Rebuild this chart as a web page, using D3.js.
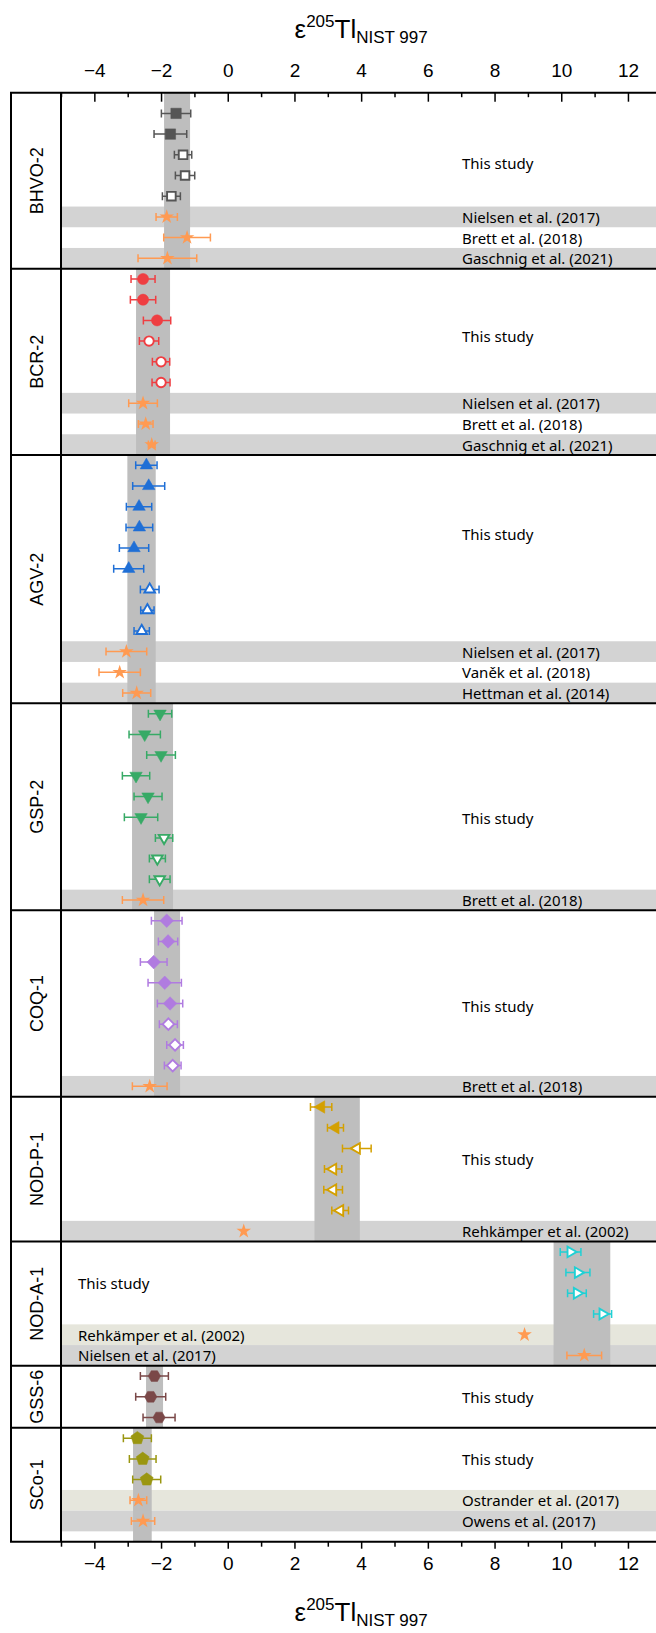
<!DOCTYPE html>
<html><head><meta charset="utf-8">
<script src="https://cdn.jsdelivr.net/npm/d3@7"></script>
<style>body{margin:0;background:#fff}</style>
</head><body><svg id="c" width="656" height="1633"></svg>
<script>
// ---------- DATA ----------
const sampleNames  = ["BHVO-2","BCR-2","AGV-2","GSP-2","COQ-1","NOD-P-1","NOD-A-1","GSS-6","SCo-1"];
const sampleColors = ["#555555","#ef3e42","#1f6fd6","#37aa66","#b07be0","#d4a000","#20d0d4","#7a4848","#9a9610"];
const sampleShapes = ["square","circle","triUp","triDown","diamond","triLeft","triRight","hexagon","pentagon"];
const refBandLo = [-1.91,-2.75,-3.01,-2.87,-2.21,2.60,9.77,-2.45,-2.84];
const refBandHi = [-1.13,-1.73,-2.16,-1.64,-1.43,3.96,11.47,-1.94,-2.28];

// This study: [value, 2SD, open(1)/filled(0)]
const bhvo2 = [[-1.55,0.44,0],[-1.72,0.49,0],[-1.34,0.26,1],[-1.28,0.29,1],[-1.69,0.27,1]];
const bcr2  = [[-2.54,0.36,0],[-2.54,0.38,0],[-2.12,0.41,0],[-2.36,0.29,1],[-2.00,0.26,1],[-2.00,0.27,1]];
const agv2  = [[-2.44,0.32,0],[-2.37,0.48,0],[-2.66,0.38,0],[-2.65,0.40,0],[-2.81,0.44,0],[-2.97,0.45,0],[-2.34,0.28,1],[-2.41,0.20,1],[-2.58,0.23,1]];
const gsp2  = [[-2.03,0.35,0],[-2.49,0.47,0],[-2.00,0.43,0],[-2.75,0.41,0],[-2.39,0.42,0],[-2.60,0.50,0],[-1.91,0.26,1],[-2.11,0.24,1],[-2.04,0.31,1]];
const coq1  = [[-1.83,0.46,0],[-1.79,0.29,0],[-2.22,0.40,0],[-1.89,0.50,0],[-1.73,0.38,0],[-1.78,0.27,1],[-1.58,0.25,1],[-1.65,0.25,1]];
const nodp1 = [[2.80,0.32,0],[3.23,0.24,0],[3.87,0.43,1],[3.16,0.26,1],[3.16,0.28,1],[3.37,0.25,1]];
const noda1 = [[10.28,0.31,1],[10.50,0.36,1],[10.47,0.28,1],[11.24,0.27,1]];
const gss6  = [[-2.20,0.42,0],[-2.31,0.45,0],[-2.06,0.48,0]];
const sco1  = [[-2.71,0.42,0],[-2.55,0.40,0],[-2.43,0.42,0]];
const thisStudy = [bhvo2,bcr2,agv2,gsp2,coq1,nodp1,noda1,gss6,sco1];

// Literature: [reference, value, 2SD (0 = none), row band]
const bhvo2Lit = [["Nielsen et al. (2017)",-1.83,0.32,"gray"],["Brett et al. (2018)",-1.22,0.70,"none"],["Gaschnig et al. (2021)",-1.81,0.88,"gray"]];
const bcr2Lit  = [["Nielsen et al. (2017)",-2.54,0.43,"gray"],["Brett et al. (2018)",-2.46,0.22,"none"],["Gaschnig et al. (2021)",-2.28,0.10,"gray"]];
const agv2Lit  = [["Nielsen et al. (2017)",-3.04,0.61,"gray"],["Vaněk et al. (2018)",-3.24,0.62,"none"],["Hettman et al. (2014)",-2.73,0.42,"gray"]];
const gsp2Lit  = [["Brett et al. (2018)",-2.54,0.62,"gray"]];
const coq1Lit  = [["Brett et al. (2018)",-2.34,0.52,"gray"]];
const nodp1Lit = [["Rehkämper et al. (2002)",0.48,0,"gray"]];
const noda1Lit = [["Rehkämper et al. (2002)",8.90,0,"beige"],["Nielsen et al. (2017)",10.69,0.52,"gray"]];
const gss6Lit  = [];
const sco1Lit  = [["Ostrander et al. (2017)",-2.68,0.25,"beige"],["Owens et al. (2017)",-2.54,0.35,"gray"]];
const literature = [bhvo2Lit,bcr2Lit,agv2Lit,gsp2Lit,coq1Lit,nodp1Lit,noda1Lit,gss6Lit,sco1Lit];
const labelLeft = [0,0,0,0,0,0,1,0,0];

const xTickValues = d3.range(-5,14,1);
const xLabelValues = [-4,-2,0,2,4,6,8,10,12];

// ---------- LAYOUT ----------
const W = 656, H = 1633;
const frameL = 11, innerL = 61, plotR = 661.3, plotTop = 92.7, plotBottom = 1541.7;
const starColor = "#ff9a52";
const bandColors = {gray:"#d3d3d3", beige:"#e6e6dc"};
// vertical placement of the "This study" label, in row units within each block
const studyLabelPos = [2.42, 2.75, 3.32, 5.06, 4.12, 2.5, 1.5, 1, 1];

const svg = d3.select("#c");
const x = d3.scaleLinear().domain([-5,13]).range([innerL, plotR]);

let totalRows = 0;
const sections = sampleNames.map((n,i)=>{
  const s = {name:n, i, start: totalRows, nStudy: thisStudy[i].length, nLit: literature[i].length};
  totalRows += s.nStudy + s.nLit;
  return s;
});
const y = d3.scaleLinear().domain([0,totalRows+1]).range([plotTop,plotBottom]);
const rowH = y(1)-y(0);
sections.forEach((s,k)=>{
  s.y0 = k===0 ? y(0) : y(s.start+0.5);
  s.y1 = k===sections.length-1 ? y(totalRows+1) : y(s.start+s.nStudy+s.nLit+0.5);
});
const rc = r => y(r+1);

const defs = svg.append("defs");
defs.append("clipPath").attr("id","pc").append("rect").attr("x",innerL).attr("y",plotTop).attr("width",W-innerL).attr("height",plotBottom-plotTop);

const gBands = svg.append("g").attr("clip-path","url(#pc)");
const gV = svg.append("g").attr("clip-path","url(#pc)");
const gMarks = svg.append("g");
const gFrame = svg.append("g");
const gText = svg.append("g");

function polygon(n, r, rot){
  const pts=[];
  for(let k=0;k<n;k++){const a=(rot+k*360/n)*Math.PI/180; pts.push([r*Math.sin(a), -r*Math.cos(a)]);}
  return "M"+pts.map(p=>p[0].toFixed(2)+","+p[1].toFixed(2)).join("L")+"Z";
}
function shapePath(shape, open){
  const f = open ? 0.85 : 1;
  switch(shape){
    case "square": return d3.symbol(d3.symbolSquare, (open?8.6:10.4)**2)();
    case "circle": return d3.symbol(d3.symbolCircle, Math.PI*(open?4.7:5.6)**2)();
    case "triUp": return polygon(3,7.2*f,0);
    case "triDown": return polygon(3,7.2*f,180);
    case "triLeft": return polygon(3,7.2*f,-90);
    case "triRight": return polygon(3,7.2*f,90);
    case "diamond": return polygon(4,6.8*f,0);
    case "hexagon": return polygon(6,6.2*f,30);
    case "pentagon": return polygon(5,6.8*f,0);
  }
}
const starPath = d3.symbol(d3.symbolStar, 66)();

function errBar(g, v, e, yy, color){
  if(!e) return;
  const a=x(v-e), b=x(v+e), c=4;
  g.append("path").attr("d",`M${a},${yy}H${b}M${a},${yy-c}V${yy+c}M${b},${yy-c}V${yy+c}`)
    .attr("stroke",color).attr("stroke-width",1.5).attr("fill","none");
}

sections.forEach(s=>{
  const i=s.i, col=sampleColors[i];
  literature[i].forEach((d,j)=>{
    const r = s.start + s.nStudy + j;
    if(d[3]!=="none") gBands.append("rect").attr("x",innerL).attr("width",W-innerL)
      .attr("y",y(r+0.5)).attr("height",rowH).attr("fill",bandColors[d[3]]);
  });
  gV.append("rect").attr("x",x(refBandLo[i])).attr("width",x(refBandHi[i])-x(refBandLo[i]))
    .attr("y",s.y0).attr("height",s.y1-s.y0).attr("fill","#bebebe");
  thisStudy[i].forEach((d,j)=>{
    const yy = rc(s.start+j);
    errBar(gMarks,d[0],d[1],yy,col);
    gMarks.append("path").attr("d",shapePath(sampleShapes[i],d[2]))
      .attr("transform",`translate(${x(d[0])},${yy})`)
      .attr("fill",d[2]?"#fff":col).attr("stroke",col).attr("stroke-width",d[2]?1.9:0.5);
  });
  literature[i].forEach((d,j)=>{
    const yy = rc(s.start+s.nStudy+j);
    errBar(gMarks,d[1],d[2],yy,starColor);
    gMarks.append("path").attr("d",starPath).attr("transform",`translate(${x(d[1])},${yy})`).attr("fill",starColor);
  });
  const lx = labelLeft[i] ? 78 : 462;
  gText.append("text").attr("x",lx).attr("y",rc(s.start+studyLabelPos[i])).text("This study");
  literature[i].forEach((d,j)=>{
    gText.append("text").attr("x",lx).attr("y",rc(s.start+s.nStudy+j)).text(d[0]);
  });
  svg.append("text").attr("transform",`translate(${(frameL+innerL)/2+1},${(s.y0+s.y1)/2}) rotate(-90)`)
    .attr("text-anchor","middle").attr("dominant-baseline","central")
    .style("font-family","'Liberation Sans', Arial, sans-serif").style("font-size","18px").text(s.name);
});
gText.selectAll("text").attr("dominant-baseline","central")
  .style("font-family","'Noto Sans', sans-serif").style("font-size","15px").attr("fill","#000");

// frame
gFrame.attr("stroke","#000").attr("stroke-width",2).attr("fill","none");
gFrame.append("line").attr("x1",frameL).attr("x2",frameL).attr("y1",plotTop).attr("y2",plotBottom);
gFrame.append("line").attr("x1",innerL).attr("x2",innerL).attr("y1",plotTop).attr("y2",plotBottom);
const hl = [plotTop, ...sections.slice(1).map(s=>s.y0), plotBottom];
hl.forEach(v=>gFrame.append("line").attr("x1",frameL-1).attr("x2",W).attr("y1",v).attr("y2",v));

// axes
const fmt = d3.format("");
function styleAxis(g){
  g.select(".domain").remove();
  g.selectAll("line").attr("stroke","#000").attr("stroke-width",1.5);
  g.selectAll("text").style("font-family","'Liberation Sans', Arial, sans-serif").style("font-size","19px").attr("fill","#000");
}
const minorVals = xTickValues.filter(v=>!xLabelValues.includes(v));
svg.append("g").attr("transform",`translate(0,${plotTop})`)
  .call(d3.axisTop(x).tickValues(xLabelValues).tickSize(-9).tickPadding(15.5).tickFormat(fmt)).call(styleAxis);
svg.append("g").attr("transform",`translate(0,${plotTop})`)
  .call(d3.axisTop(x).tickValues(minorVals).tickSize(-4.5).tickFormat("")).call(styleAxis);
svg.append("g").attr("transform",`translate(0,${plotBottom})`)
  .call(d3.axisBottom(x).tickValues(xLabelValues).tickSize(7).tickPadding(8).tickFormat(fmt)).call(styleAxis);
svg.append("g").attr("transform",`translate(0,${plotBottom})`)
  .call(d3.axisBottom(x).tickValues(minorVals).tickSize(5).tickFormat("")).call(styleAxis);

function title(yb){
  const t = svg.append("text").attr("x",(innerL+plotR)/2).attr("y",yb).attr("text-anchor","middle")
    .style("font-family","'Liberation Sans', Arial, sans-serif").style("font-size","26px");
  t.append("tspan").text("ε");
  t.append("tspan").attr("dy",-11).style("font-size","17px").text("205");
  t.append("tspan").attr("dy",11).text("Tl");
  t.append("tspan").attr("dy",5).style("font-size","17px").text("NIST 997");
}
title(38);
title(1621);
</script></body></html>
